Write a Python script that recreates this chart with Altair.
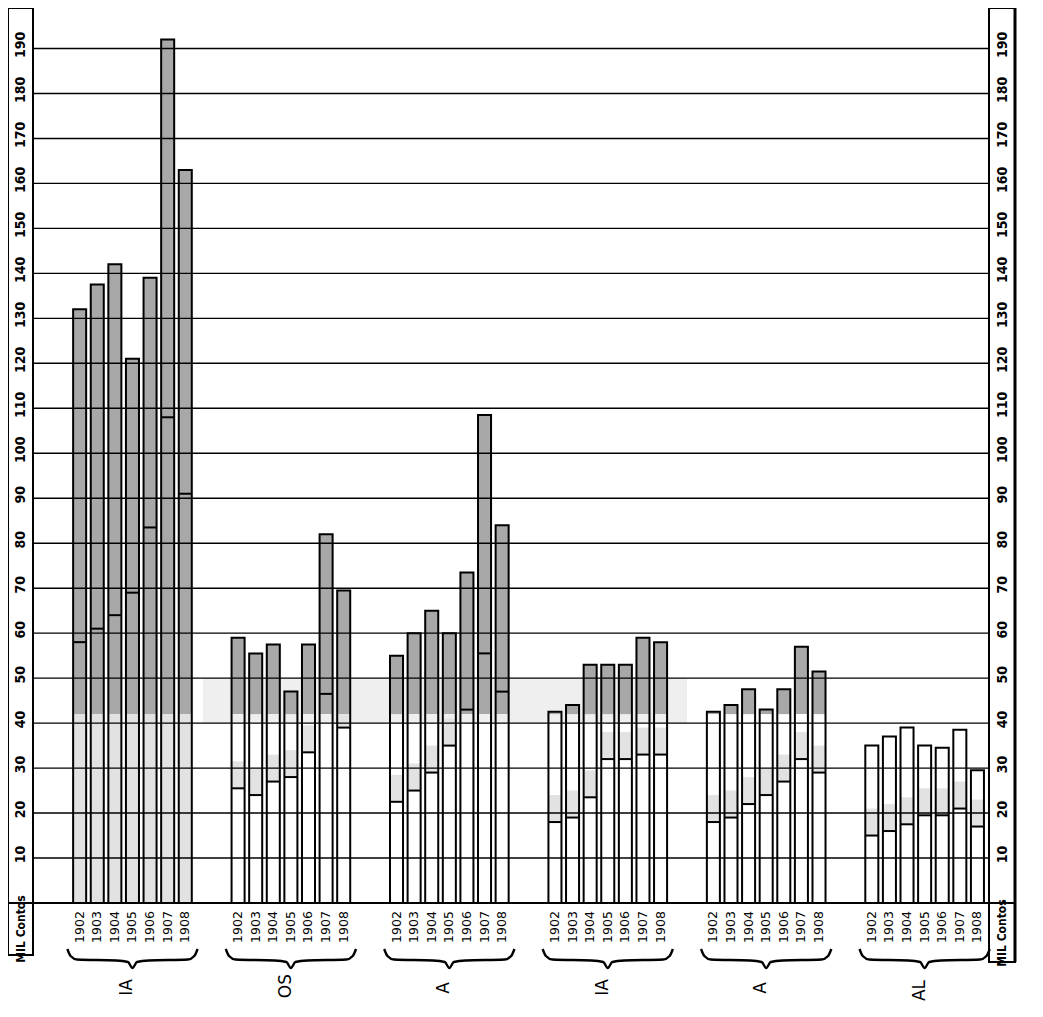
import altair as alt
import pandas as pd

# ---------------- data ("MIL Contos") ----------------
years = ["1902", "1903", "1904", "1905", "1906", "1907", "1908"]
# group names are cut off at the bottom of the scan; only these endings are visible
groups = ["IA", "OS", "A", "IA", "A", "AL"]

tot_g1 = [132, 137.5, 142, 121, 139, 192, 163]
div_g1 = [58, 61, 64, 69, 83.5, 108, 91]
tot_g2 = [59, 55.5, 57.5, 47, 57.5, 82, 69.5]
div_g2 = [25.5, 24, 27, 28, 33.5, 46.5, 39]
tot_g3 = [55, 60, 65, 60, 73.5, 108.5, 84]
div_g3 = [22.5, 25, 29, 35, 43, 55.5, 47]
tot_g4 = [42.5, 44, 53, 53, 53, 59, 58]
div_g4 = [18, 19, 23.5, 32, 32, 33, 33]
tot_g5 = [42.5, 44, 47.5, 43, 47.5, 57, 51.5]
div_g5 = [18, 19, 22, 24, 27, 32, 29]
tot_g6 = [35, 37, 39, 35, 34.5, 38.5, 29.5]
div_g6 = [15, 16, 17.5, 19.5, 19.5, 21, 17]

ticks = list(range(10, 200, 10))
axis_title = "MIL Contos"

totals = [tot_g1, tot_g2, tot_g3, tot_g4, tot_g5, tot_g6]
dividers = [div_g1, div_g2, div_g3, div_g4, div_g5, div_g6]

# ---------------- layout / style ----------------
W, H = 955, 895
YMAX = 199
STRIDE = 9
HALF = 0.37
DARK_FROM = 42
AXFONT = "DejaVu Sans Condensed"
NAME_END_PX = [971, 966, 974, 971, 974, 972]   # plot-relative y of each name's end

def pix_to_val(py):
    return (H - py) * YMAX / H

rows = []
for g, (tots, divs) in enumerate(zip(totals, dividers)):
    for i, (yr, t, d) in enumerate(zip(years, tots, divs)):
        pos = g * STRIDE + i
        if g == 0:
            lo, hi = 0, min(t, DARK_FROM)
        else:
            lo, hi = d, min(d + 6, t, max(d, DARK_FROM))
        rows.append(dict(group=g, year=yr, pos=pos, left=pos - HALF, right=pos + HALF,
                         total=t, div=d, zero=0, light_lo=lo, light_hi=hi,
                         dark_lo=min(DARK_FROM, t)))
df = pd.DataFrame(rows)

brace_tpl = [(-1, 0), (-0.95, 7), (-0.85, 10.5), (-0.25, 11.5), (-0.07, 13),
             (0, 19), (0.07, 13), (0.25, 11.5), (0.85, 10.5), (0.95, 7), (1, 0)]
BRACE_TOP = 941
brows = []
for g in range(len(groups)):
    c = g * STRIDE + 3
    for k, (u, dy) in enumerate(brace_tpl):
        brows.append(dict(g=g, k=k, x=c + u * 3.7, y=pix_to_val(BRACE_TOP + dy)))
bdf = pd.DataFrame(brows)

ndf = pd.DataFrame(dict(name=groups, x=[g * STRIDE + 3 for g in range(len(groups))],
                        yv=[pix_to_val(p) for p in NAME_END_PX]))
tdf = pd.DataFrame(dict(v=ticks))
one = pd.DataFrame(dict(v=[0]))

xs = alt.Scale(domain=[-2.65, 51.6], nice=False, zero=False)
ys = alt.Scale(domain=[0, YMAX], nice=False, zero=False)

def X(f):
    return alt.X(f, scale=xs, axis=None)

def Y(f):
    return alt.Y(f, scale=ys, axis=None)

def mk_axis(orient, pad):
    return alt.Axis(orient=orient, values=ticks, labelAngle=270, labelAlign="center",
                    labelBaseline="middle", labelPadding=pad, labelOffset=-4,
                    ticks=False, domain=False, grid=False, title=None,
                    labelFont=AXFONT, labelFontSize=14, labelFontWeight="bold",
                    labelColor="black")

base = alt.Chart(df)

band = alt.Chart(one).mark_rect(color="#efefef").encode(
    x=alt.X("a:Q", scale=xs, axis=None), x2="b:Q", y=Y("c:Q"), y2="d:Q"
).transform_calculate(a="7", b="34.5", c="40", d="50")

light = base.mark_rect(color="#e2e2e2").encode(
    x=X("left:Q"), x2="right:Q", y=Y("light_lo:Q"), y2="light_hi:Q")

dark = base.transform_filter(f"datum.total > {DARK_FROM}").mark_rect(color="#a8a8a8").encode(
    x=X("left:Q"), x2="right:Q", y=Y("dark_lo:Q"), y2="total:Q")

outline = base.mark_rect(fill="transparent", stroke="black", strokeWidth=2).encode(
    x=X("left:Q"), x2="right:Q",
    y=alt.Y("total:Q", scale=ys, axis=mk_axis("left", 12.5)), y2="zero:Q")

divider = base.mark_rule(color="black", strokeWidth=2).encode(
    x=X("left:Q"), x2="right:Q", y=Y("div:Q"))

grid = alt.Chart(tdf).mark_rule(color="black", strokeWidth=1.4).encode(
    y=alt.Y("v:Q", scale=ys, axis=mk_axis("right", 14)),
    x=alt.value(0), x2=alt.value(W))

baseline = alt.Chart(one).mark_rule(color="black", strokeWidth=2).encode(
    y=Y("v:Q"), x=alt.value(-25), x2=alt.value(W + 27))

left_strip = alt.Chart(one).mark_rect(fill="transparent", stroke="black", strokeWidth=2).encode(
    x=alt.value(-25), x2=alt.value(0), y=alt.value(0), y2=alt.value(947))

right_strip = alt.Chart(one).mark_rect(fill="transparent", stroke="black", strokeWidth=2).encode(
    x=alt.value(W + 1), x2=alt.value(W + 27), y=alt.value(0), y2=alt.value(954))

right_edge = alt.Chart(one).mark_rule(color="black", strokeWidth=3).encode(
    x=alt.value(W + 27), y=alt.value(0), y2=alt.value(954))

unit_l = alt.Chart(one).mark_text(text=axis_title, angle=270, font=AXFONT, fontSize=12,
                                  fontWeight="bold", align="center", baseline="middle").encode(
    x=alt.value(-12.5), y=alt.value(921))
unit_r = alt.Chart(one).mark_text(text=axis_title, angle=270, font=AXFONT, fontSize=12,
                                  fontWeight="bold", align="center", baseline="middle").encode(
    x=alt.value(W + 14), y=alt.value(925))

year_txt = base.mark_text(angle=270, font="DejaVu Sans", fontSize=12.5, align="center",
                          baseline="middle", color="black").encode(
    x=X("pos:Q"), y=alt.value(919), text="year:N")

braces = alt.Chart(bdf).mark_line(interpolate="monotone", color="black", strokeWidth=2.4).encode(
    x=X("x:Q"), y=Y("y:Q"), detail="g:N", order="k:Q")

names = alt.Chart(ndf).mark_text(angle=270, font="DejaVu Sans", fontSize=17, align="right",
                                 baseline="alphabetic", color="black").encode(
    x=X("x:Q"), y=Y("yv:Q"), text="name:N")

chart = alt.layer(
    band, light, dark, outline, divider, grid, baseline, left_strip, right_strip, right_edge,
    unit_l, unit_r, year_txt, braces, names
).resolve_axis(y="independent").properties(
    width=W, height=H,
    autosize=alt.AutoSizeParams(type="none"),
    padding={"left": 25, "top": 0, "right": 45, "bottom": 104},
    background="white",
).configure_view(stroke=None)

chart.save("out.html", embed_options={"renderer": "svg", "actions": False})
